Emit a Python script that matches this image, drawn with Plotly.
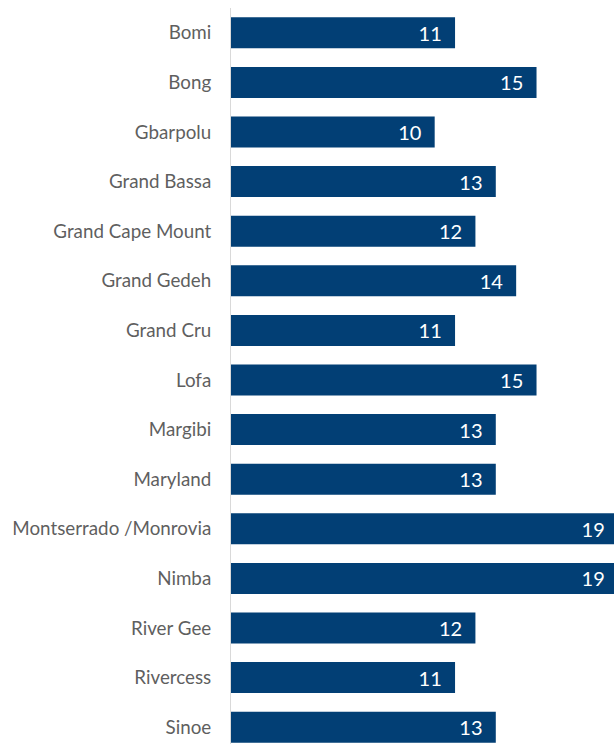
import plotly.graph_objects as go

counties = ['Bomi', 'Bong', 'Gbarpolu', 'Grand Bassa', 'Grand Cape Mount',
            'Grand Gedeh', 'Grand Cru', 'Lofa', 'Margibi', 'Maryland',
            'Montserrado /Monrovia', 'Nimba', 'River Gee', 'Rivercess', 'Sinoe']
values = [11, 15, 10, 13, 12, 14, 11, 15, 13, 13, 19, 19, 12, 11, 13]

NAVY = '#023F75'

fig = go.Figure()

fig.add_trace(go.Bar(
    x=values,
    y=counties,
    orientation='h',
    marker=dict(color=NAVY, line=dict(width=0)),
    text=values,
    texttemplate='%{x}\u00a0\u00a0',
    textposition='inside',
    insidetextanchor='end',
    textfont=dict(color='white', size=20, family='Lato'),
))

# the original is a crop: the chart runs slightly past the right and bottom edges
fig.update_layout(
    width=618,
    height=752,
    margin=dict(l=231, r=0, t=8, b=0),
    plot_bgcolor='white',
    paper_bgcolor='white',
    bargap=0.375,
    showlegend=False,
    font=dict(family='Lato', color='#5f5f5f', size=18.8),
)

fig.update_xaxes(
    range=[0, 19],
    visible=False,
)

fig.update_yaxes(
    categoryorder='array',
    categoryarray=counties,
    range=[14.5, -0.5],
    showline=True,
    linecolor='#D9D9D9',
    linewidth=1,
    showgrid=False,
    ticks='',
    ticklabelstandoff=15,
)

fig.write_html(
    "out.html",
    config={'displayModeBar': False},
    post_script="document.body.style.margin='0';document.body.style.overflow='hidden';"
)
